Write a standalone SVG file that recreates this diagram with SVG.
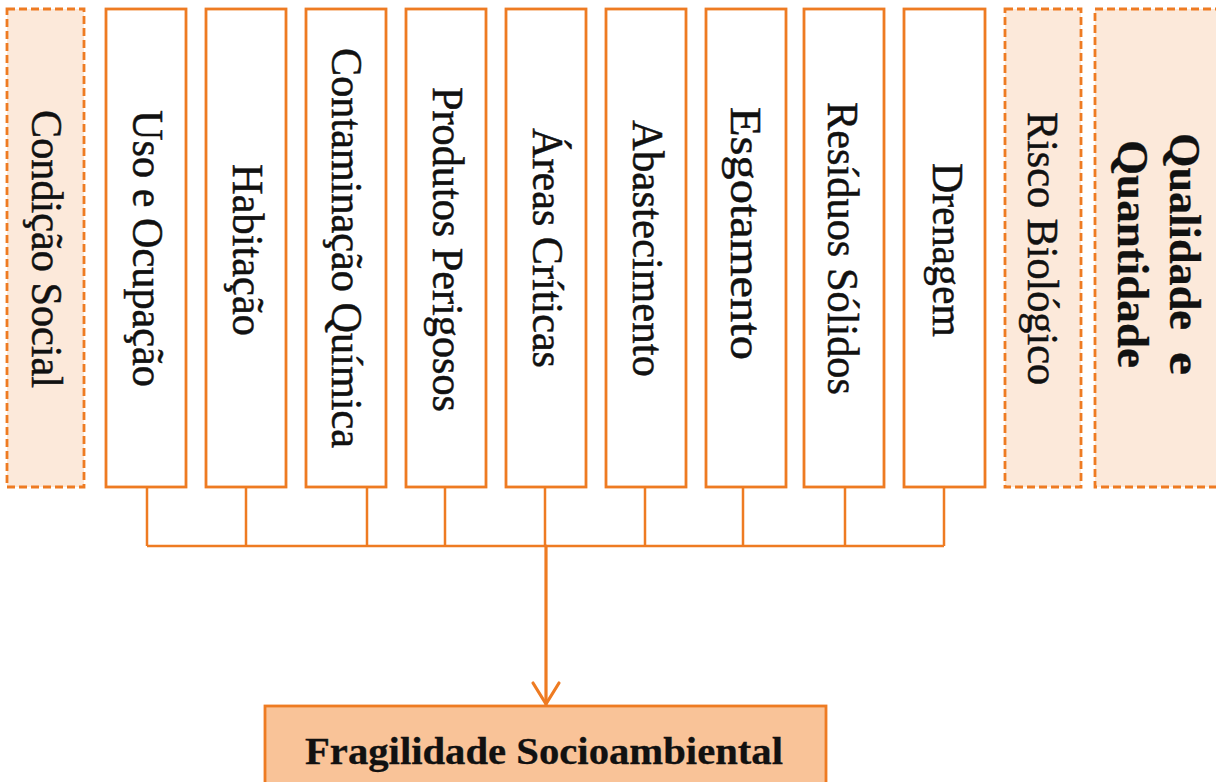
<svg xmlns="http://www.w3.org/2000/svg" width="1216" height="782" viewBox="0 0 1216 782">
  <style>
    .box { fill: #ffffff; stroke: #ee7b22; stroke-width: 2.8; }
    .dbox { fill: #fce9da; stroke: #ee7b22; stroke-width: 2.8; stroke-dasharray: 8 4; }
    .result { fill: #f9c398; stroke: #ee7b22; stroke-width: 2.8; }
    .lbl { font-family: "Liberation Serif", "Times New Roman", serif; font-size: 44px; fill: #111111; stroke: #111111; stroke-width: 0.5; }
    .bold { font-weight: bold; stroke-width: 0.3; }
    .link { fill: none; stroke: #ee7b22; stroke-width: 2.5; }
    .main { fill: none; stroke: #ee7b22; stroke-width: 3.2; stroke-linecap: round; stroke-linejoin: round; }
  </style>

  <!-- side factors (dashed) -->
  <g id="condicao-social">
    <rect class="dbox" x="7" y="9" width="77" height="478"/>
    <text class="lbl" transform="translate(32,110) rotate(90)" textLength="278" lengthAdjust="spacingAndGlyphs">Condição Social</text>
  </g>

  <!-- indicator columns -->
  <g id="uso-ocupacao">
    <rect class="box" x="106" y="9" width="80" height="478"/>
    <text class="lbl" transform="translate(133,110) rotate(90)" textLength="277" lengthAdjust="spacingAndGlyphs">Uso e Ocupação</text>
  </g>
  <g id="habitacao">
    <rect class="box" x="206" y="9" width="80" height="478"/>
    <text class="lbl" transform="translate(233,164) rotate(90)" textLength="172" lengthAdjust="spacingAndGlyphs">Habitação</text>
  </g>
  <g id="contaminacao-quimica">
    <rect class="box" x="306" y="9" width="80" height="478"/>
    <text class="lbl" transform="translate(332,48) rotate(90)" textLength="400" lengthAdjust="spacingAndGlyphs">Contaminação Química</text>
  </g>
  <g id="produtos-perigosos">
    <rect class="box" x="406" y="9" width="80" height="478"/>
    <text class="lbl" transform="translate(433,87) rotate(90)" textLength="325" lengthAdjust="spacingAndGlyphs">Produtos Perigosos</text>
  </g>
  <g id="areas-criticas">
    <rect class="box" x="506" y="9" width="80" height="478"/>
    <text class="lbl" transform="translate(533,128) rotate(90)" textLength="240" lengthAdjust="spacingAndGlyphs">Áreas Críticas</text>
  </g>
  <g id="abastecimento">
    <rect class="box" x="606" y="9" width="80" height="478"/>
    <text class="lbl" transform="translate(633,120) rotate(90)" textLength="257" lengthAdjust="spacingAndGlyphs">Abastecimento</text>
  </g>
  <g id="esgotamento">
    <rect class="box" x="706" y="9" width="80" height="478"/>
    <text class="lbl" transform="translate(731,107) rotate(90)" textLength="253" lengthAdjust="spacingAndGlyphs">Esgotamento</text>
  </g>
  <g id="residuos-solidos">
    <rect class="box" x="804" y="9" width="80" height="478"/>
    <text class="lbl" transform="translate(828,102) rotate(90)" textLength="293" lengthAdjust="spacingAndGlyphs">Resíduos Sólidos</text>
  </g>
  <g id="drenagem">
    <rect class="box" x="904" y="9" width="81" height="478"/>
    <text class="lbl" transform="translate(933,163) rotate(90)" textLength="174" lengthAdjust="spacingAndGlyphs">Drenagem</text>
  </g>

  <g id="risco-biologico">
    <rect class="dbox" x="1005" y="9" width="76" height="478"/>
    <text class="lbl" transform="translate(1028,112) rotate(90)" textLength="273" lengthAdjust="spacingAndGlyphs">Risco Biológico</text>
  </g>
  <g id="qualidade-quantidade">
    <rect class="dbox" x="1095" y="9" width="140" height="478"/>
    <text class="lbl bold" transform="translate(1170,133) rotate(90)"><tspan x="0" textLength="197" lengthAdjust="spacingAndGlyphs">Qualidade</tspan><tspan x="219" textLength="23" lengthAdjust="spacingAndGlyphs">e</tspan></text>
    <text class="lbl bold" transform="translate(1118,140) rotate(90)" textLength="228" lengthAdjust="spacingAndGlyphs">Quantidade</text>
  </g>

  <!-- connectors -->
  <g id="connectors">
    <path class="link" d="M147,487 V546 M246,487 V546 M367,487 V546 M445,487 V546 M545,487 V546 M645,487 V546 M743,487 V546 M845,487 V546 M944,487 V546 M147,546 H944"/>
    <path class="main" d="M546,546 V704"/>
    <path class="main" d="M533,683 L546,704 L559,683"/>
  </g>

  <!-- result -->
  <g id="fragilidade-socioambiental">
    <rect class="result" x="265" y="706" width="561" height="90"/>
    <text class="lbl bold" x="305" y="764" textLength="478" lengthAdjust="spacingAndGlyphs" style="font-size:38px">Fragilidade Socioambiental</text>
  </g>
</svg>
